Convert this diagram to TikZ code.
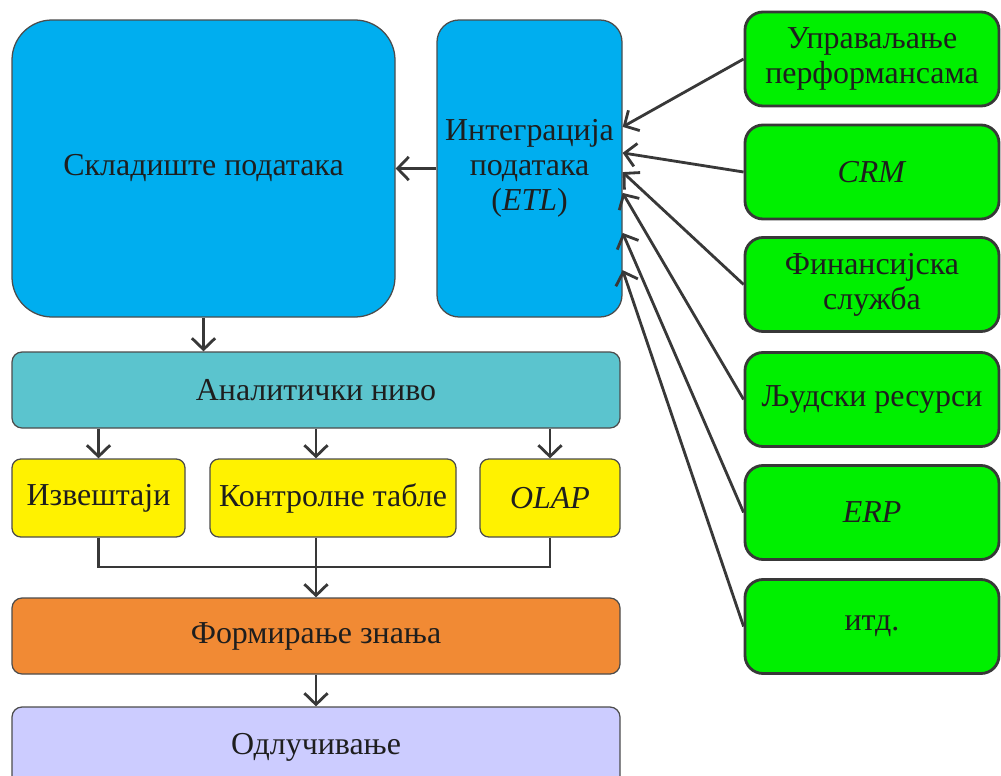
\documentclass[tikz,border=0pt]{standalone}
\usepackage{fontspec}
\setmainfont{Liberation Serif}
\usetikzlibrary{arrows.meta}
\definecolor{whblue}{HTML}{00AEEF}
\definecolor{anteal}{HTML}{5BC4CE}
\definecolor{repyellow}{HTML}{FFF200}
\definecolor{knorange}{HTML}{F18A34}
\definecolor{declav}{HTML}{CCCCFF}
\definecolor{srcgreen}{HTML}{00F000}
\definecolor{linec}{HTML}{383838}
\definecolor{textc}{HTML}{1E1E1E}
\newcommand\pw[1]{#1*0.025cm}
\tikzset{
  base/.style={inner sep=0pt, align=center, text=textc,
    font=\fontsize{22.7}{25}\selectfont},
  leftbox/.style={base, draw=linec!90, line width=0.9pt},
  srcbox/.style={base, draw=linec, line width=2pt, fill=srcgreen,
    rounded corners=0.45cm, minimum width=\pw{254}, minimum height=\pw{94}},
  yelbox/.style={leftbox, fill=repyellow, rounded corners=0.22cm, minimum height=\pw{78}},
  arr/.style={draw=linec, line width=2pt,
    -{Straight Barb[length=0.28cm, width=0.58cm, line width=2pt]}},
  bus/.style={draw=linec, line width=2pt},
}
\begin{document}
\begin{tikzpicture}[x=0.025cm, y=-0.025cm]
\useasboundingbox (0,0) rectangle (1001,776);

% storage and integration
\node[leftbox, fill=whblue, rounded corners=1cm,
  minimum width=\pw{383}, minimum height=\pw{297}] (wh) at (203.5,168.5) {Складиште података};
\node[leftbox, fill=whblue, rounded corners=0.55cm,
  minimum width=\pw{185}, minimum height=\pw{297}] (etl) at (529.5,168.5)
  {Интеграција\\података\\(\textit{ETL})};

% analytic layer
\node[leftbox, fill=anteal, rounded corners=0.25cm,
  minimum width=\pw{608}, minimum height=\pw{76}] (an) at (316,390) {Аналитички ниво};

% reporting tools
\node[yelbox, minimum width=\pw{173}] (rep) at (98.5,498) {Извештаји};
\node[yelbox, minimum width=\pw{246}] (dash) at (333,498) {Контролне табле};
\node[yelbox, minimum width=\pw{140}] (olap) at (550,498) {\textit{OLAP}};

% knowledge and decisions
\node[leftbox, fill=knorange, rounded corners=0.25cm,
  minimum width=\pw{608}, minimum height=\pw{76}] (kn) at (316,636) {Формирање знања};
\node[leftbox, fill=declav, rounded corners=0.25cm,
  minimum width=\pw{608}, minimum height=\pw{80}] (dec) at (316,747) {Одлучивање};
% the decision box runs past the lower edge of the page

% data sources
\node[srcbox] (s1) at (872,59)  {Управаљање\\перформансама};
\node[srcbox] (s2) at (872,172) {\textit{CRM}};
\node[srcbox] (s3) at (872,284.5) {Финансијска\\служба};
\node[srcbox] (s4) at (872,399.5) {Људски ресурси};
\node[srcbox] (s5) at (872,512.5) {\textit{ERP}};
\node[srcbox] (s6) at (872,626.5) {итд.};

% sources feed the integration step
\draw[arr] (s1.west) -- ([yshift=1.04cm]etl.east);
\draw[arr] (s2.west) -- ([yshift=0.39cm]etl.east);
\draw[arr] (s3.west) -- ([yshift=-0.09cm]etl.east);
\draw[arr] (s4.west) -- ([yshift=-0.61cm]etl.east);
\draw[arr] (s5.west) -- ([yshift=-1.61cm]etl.east);
\draw[arr] (s6.west) -- ([yshift=-2.54cm]etl.east);

% main flow
\draw[arr] (etl.west) -- (wh.east);
\draw[arr] (wh.south) -- (wh.south |- an.north);
\draw[arr] (an.south -| rep.north) -- (rep.north);
\draw[arr] (an.south) -- (an.south |- dash.north);
\draw[arr] (an.south -| olap.north) -- (olap.north);

\coordinate (join) at (316,567);
\draw[bus] (rep.south) |- (join) -| (olap.south);
\draw[bus] (rep.south -| join) -- (join);
\draw[arr] (join) -- (kn.north);
\draw[arr] (kn.south) -- (dec.north);
\end{tikzpicture}
\end{document}
